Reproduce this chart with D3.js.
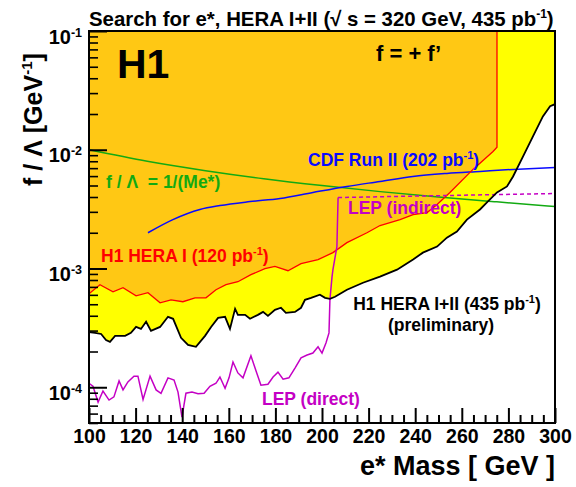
<!DOCTYPE html>
<html><head><meta charset="utf-8">
<script src="https://cdn.jsdelivr.net/npm/d3@7"></script>
<style>
body{margin:0;background:#fff}
text{font-family:"Liberation Sans",Arial,Helvetica,sans-serif;font-weight:bold}
</style>
</head><body>
<svg id="c" width="576" height="487"></svg>
<script>
// ---- data ----
const xMajorTicks = [100,120,140,160,180,200,220,240,260,280,300];
const yMajorTicks = [1e-4,1e-3,1e-2,1e-1];
const yTickExponents = ["-4","-3","-2","-1"];

// H1 HERA I+II (435 pb-1), preliminary limit: [mass GeV, f/Lambda GeV^-1]
const h1HeraAll = [[100,2.92e-4],[102.6,2.87e-4],[105.2,2.81e-4],[107.3,2.50e-4],[109.0,2.41e-4],[111.2,2.71e-4],
 [115.5,2.71e-4],[118.0,2.87e-4],[120.2,3.22e-4],[122.3,3.10e-4],[124.5,3.56e-4],[126.6,2.98e-4],[130.5,3.22e-4],
 [133.9,3.92e-4],[136.1,3.77e-4],[139.5,2.61e-4],[142.5,2.27e-4],[145.9,2.19e-4],[149.8,2.71e-4],[152.4,3.22e-4],
 [155.4,3.84e-4],[158.4,3.92e-4],[160.5,3.10e-4],[162.7,4.57e-4],[163.9,4.07e-4],[167.0,4.07e-4],[169.1,3.77e-4],
 [172.5,4.07e-4],[174.7,4.31e-4],[176.8,3.99e-4],[179.8,4.49e-4],[182.4,4.67e-4],[184.5,4.23e-4],[188.4,4.31e-4],
 [191.0,4.67e-4],[192.7,5.45e-4],[195.3,5.66e-4],[199.1,6.01e-4],[201.3,5.66e-4],[203.4,5.56e-4],[205.6,5.78e-4],
 [210.7,6.62e-4],[217.6,7.59e-4],[224.9,8.53e-4],[232.2,9.78e-4],[239.1,1.19e-3],[243.3,1.36e-3],[249.4,1.53e-3],
 [253.6,1.82e-3],[257.9,2.05e-3],[262.2,2.58e-3],[267.8,3.14e-3],[270.8,3.60e-3],[275.1,4.37e-3],[279.4,4.91e-3],
 [282.0,5.96e-3],[286.3,8.79e-3],[290.6,1.30e-2],[294.8,1.91e-2],[297.9,2.33e-2],[300,2.42e-2]];

// H1 HERA I (120 pb-1) limit
const h1HeraI = [[100,6.12e-4],[104.7,7.30e-4],[110.3,6.37e-4],[114.6,6.89e-4],[120.2,5.89e-4],[125.3,6.25e-4],
 [130.5,5.14e-4],[135.2,5.45e-4],[140.3,5.25e-4],[145.5,5.66e-4],[150.2,5.66e-4],[154.5,6.62e-4],[158.8,7.30e-4],
 [163.9,7.74e-4],[169.5,8.87e-4],[175.5,9.96e-4],[179.8,1.04e-3],[185.4,9.58e-4],[191.0,1.10e-3],[198.3,1.19e-3],
 [204.7,1.36e-3],[210.7,1.65e-3],[219.3,2.00e-3],[224.9,2.30e-3],[233.5,2.58e-3],[239.1,2.84e-3],[245.1,2.96e-3],
 [249.4,3.46e-3],[254.9,4.37e-3],[264.8,6.83e-3],[273.4,9.68e-3],[275.1,1.05e-2],[275.1,1e-1]];

// CDF Run II (202 pb-1)
const cdfRun2 = [[125.3,2.00e-3],[136,2.58e-3],[147.6,3.14e-3],[156.2,3.39e-3],[169.1,3.66e-3],[182,3.89e-3],
 [196.1,4.37e-3],[210.7,4.91e-3],[224.9,5.41e-3],[239,5.96e-3],[253.6,6.32e-3],[267.8,6.57e-3],[282,6.83e-3],[300,7.10e-3]];

// f/Lambda = 1/M
const oneOverM = [[100,1.000e-2],[125,8.00e-3],[150,6.67e-3],[175,5.71e-3],[200,5.00e-3],[225,4.44e-3],
 [250,4.00e-3],[275,3.64e-3],[300,3.33e-3]];

// LEP direct
const lepDirect = [[100,1.08e-4],[101.7,1.02e-4],[103.9,7.5e-5],[106.0,9.3e-5],[108.6,7.8e-5],[110.7,8.3e-5],
 [112.9,1.13e-4],[114.6,9.5e-5],[116.7,1.11e-4],[119.3,1.24e-4],[121.0,1.24e-4],[123.2,7.9e-5],[126.2,1.24e-4],
 [128.8,9.5e-5],[130.9,8.9e-5],[133.9,1.20e-4],[136.5,1.15e-4],[138.2,9.1e-5],[139.9,5.6e-5],[141.6,8.9e-5],
 [144.2,9.1e-5],[146.8,8.8e-5],[149.4,8.9e-5],[151.9,1.02e-4],[154.5,1.08e-4],[156.2,1.22e-4],[158.4,9.8e-5],
 [160.1,1.20e-4],[161.8,1.63e-4],[163.9,1.32e-4],[166.1,1.20e-4],[169.5,1.84e-4],[171.7,1.37e-4],[173.8,1.04e-4],
 [176.8,1.06e-4],[179.0,1.22e-4],[181.1,1.34e-4],[183.3,1.17e-4],[185.8,1.20e-4],[188.4,1.45e-4],[191.0,1.77e-4],
 [193.6,1.87e-4],[196.1,1.94e-4],[198.3,2.19e-4],[200.0,1.94e-4],[201.7,2.36e-4],[203.0,2.87e-4],[203.4,5.45e-4],
 [204.3,8.5e-4],[204.7,9.8e-4],[206.4,1.53e-3],[206.9,3.96e-3]];

// LEP indirect
const lepIndirect = [[206.9,3.96e-3],[300,4.28e-3]];

// ---- drawing ----
const svg = d3.select("#c");
const X0=89, X1=555, Y0=31, Y1=423;
const x = d3.scaleLinear().domain([100,300]).range([X0,X1]);
const y = d3.scaleLog().domain([5e-5,0.1]).range([Y1,Y0]);

svg.append("rect").attr("width",576).attr("height",487).attr("fill","#fff");
svg.append("defs").append("clipPath").attr("id","pc").append("rect")
  .attr("x",X0).attr("y",Y0).attr("width",X1-X0).attr("height",Y1-Y0);
const g = svg.append("g").attr("clip-path","url(#pc)");

const area = d3.area().x(d=>x(d[0])).y0(y(0.1)).y1(d=>y(d[1]));
g.append("path").datum(h1HeraAll).attr("d",area).attr("fill","#ffff00");
g.append("path").datum(h1HeraI).attr("d",area).attr("fill","#ffc814");

const line = d3.line().x(d=>x(d[0])).y(d=>y(d[1]));
const smooth = d3.line().x(d=>x(d[0])).y(d=>y(d[1])).curve(d3.curveMonotoneX);

g.append("path").datum(oneOverM).attr("d",smooth).attr("fill","none").attr("stroke","#12aa12").attr("stroke-width",1.5);
g.append("path").datum(cdfRun2).attr("d",smooth).attr("fill","none").attr("stroke","#0a0aff").attr("stroke-width",1.5);
g.append("path").datum(h1HeraI).attr("d",line).attr("fill","none").attr("stroke","#ff0000").attr("stroke-width",1.3);
g.append("path").datum(lepIndirect).attr("d",line).attr("fill","none").attr("stroke","#c400c4").attr("stroke-width",1.5).attr("stroke-dasharray","4,3");
g.append("path").datum(lepDirect).attr("d",line).attr("fill","none").attr("stroke","#c400c4").attr("stroke-width",1.5);
g.append("path").datum(h1HeraAll).attr("d",line).attr("fill","none").attr("stroke","#000").attr("stroke-width",1.8);

// axes
const xMinor = d3.range(100,301,5).filter(v=>v%20!==0);
svg.append("g").attr("transform",`translate(0,${Y1})`)
  .call(d3.axisBottom(x).tickValues(xMinor).tickSize(-8).tickFormat(""))
  .call(a=>a.select(".domain").remove())
  .call(a=>a.selectAll("line").attr("stroke-width",2));
const xa = svg.append("g").attr("transform",`translate(0,${Y1})`)
  .call(d3.axisBottom(x).tickValues(xMajorTicks).tickSize(-15).tickFormat(d3.format("d")))
  .call(a=>a.select(".domain").remove())
  .call(a=>a.selectAll("line").attr("stroke-width",2));
xa.selectAll("text").attr("y",20).attr("dy",null).attr("font-size",19.5).attr("font-family",null).attr("fill","#000");

const yMinor = [];
[1e-5,1e-4,1e-3,1e-2].forEach(dec=>{for(let k=2;k<=9;k++){const v=k*dec; if(v>=5e-5&&v<0.1) yMinor.push(v);}});
svg.append("g").attr("transform",`translate(${X0},0)`)
  .call(d3.axisLeft(y).tickValues(yMinor).tickSize(-9).tickFormat(""))
  .call(a=>a.select(".domain").remove())
  .call(a=>a.selectAll("line").attr("stroke-width",1.6));
const ya = svg.append("g").attr("transform",`translate(${X0},0)`)
  .call(d3.axisLeft(y).tickValues(yMajorTicks).tickSize(-18).tickFormat(""))
  .call(a=>a.select(".domain").remove())
  .call(a=>a.selectAll("line").attr("stroke-width",2));
ya.selectAll(".tick").each(function(d,i){
  const t = d3.select(this).select("text").text(null).attr("x",-7).attr("y",12).attr("dy",null)
    .attr("text-anchor","end").attr("font-family",null).attr("fill","#000");
  t.append("tspan").attr("font-size",20).text("10");
  t.append("tspan").attr("font-size",12.5).attr("dy",-7).text(yTickExponents[i]);
});

svg.append("rect").attr("x",X0).attr("y",Y0).attr("width",X1-X0).attr("height",Y1-Y0)
  .attr("fill","none").attr("stroke","#000").attr("stroke-width",2);

// texts
function sup(sel, before, s, after, supSize, shift){
  sel.append("tspan").text(before);
  sel.append("tspan").attr("font-size",supSize).attr("dy",-shift).text(s);
  sel.append("tspan").attr("dy",shift).text(after);
  return sel;
}
sup(svg.append("text").attr("x",89).attr("y",26).attr("font-size",20.4),
  "Search for e*, HERA I+II (√ s = 320 GeV, 435 pb","-1",")",12,8);
svg.append("text").attr("x",117).attr("y",78).attr("font-size",41).text("H1");
svg.append("text").attr("x",376).attr("y",61).attr("font-size",22).text("f = + f’");

sup(svg.append("text").attr("transform","translate(42,186) rotate(-90)").attr("font-size",25),
  "f / Λ  [GeV","-1","]",15,10);
svg.append("text").attr("x",555).attr("y",475).attr("text-anchor","end").attr("font-size",27).text("e* Mass [ GeV ]");

svg.append("text").attr("x",106).attr("y",188).attr("font-size",17.5).attr("fill","#12aa12").attr("xml:space","preserve").text("f / Λ  = 1/(Me*)");
sup(svg.append("text").attr("x",308).attr("y",166).attr("font-size",17.5).attr("fill","#0a0aff"),
  "CDF Run II (202 pb","-1",")",11,7);
svg.append("text").attr("x",348).attr("y",214).attr("font-size",17.5).attr("fill","#c400c4").text("LEP (indirect)");
sup(svg.append("text").attr("x",101).attr("y",262).attr("font-size",17.5).attr("fill","#ff0000"),
  "H1 HERA I (120 pb","-1",")",11,7);
sup(svg.append("text").attr("x",447).attr("y",310).attr("text-anchor","middle").attr("font-size",17.5),
  "H1 HERA I+II (435 pb","-1",")",11,7);
svg.append("text").attr("x",441).attr("y",331).attr("text-anchor","middle").attr("font-size",17.5).text("(preliminary)");
svg.append("text").attr("x",262).attr("y",405).attr("font-size",17.5).attr("fill","#c400c4").text("LEP (direct)");
</script>
</body></html>
